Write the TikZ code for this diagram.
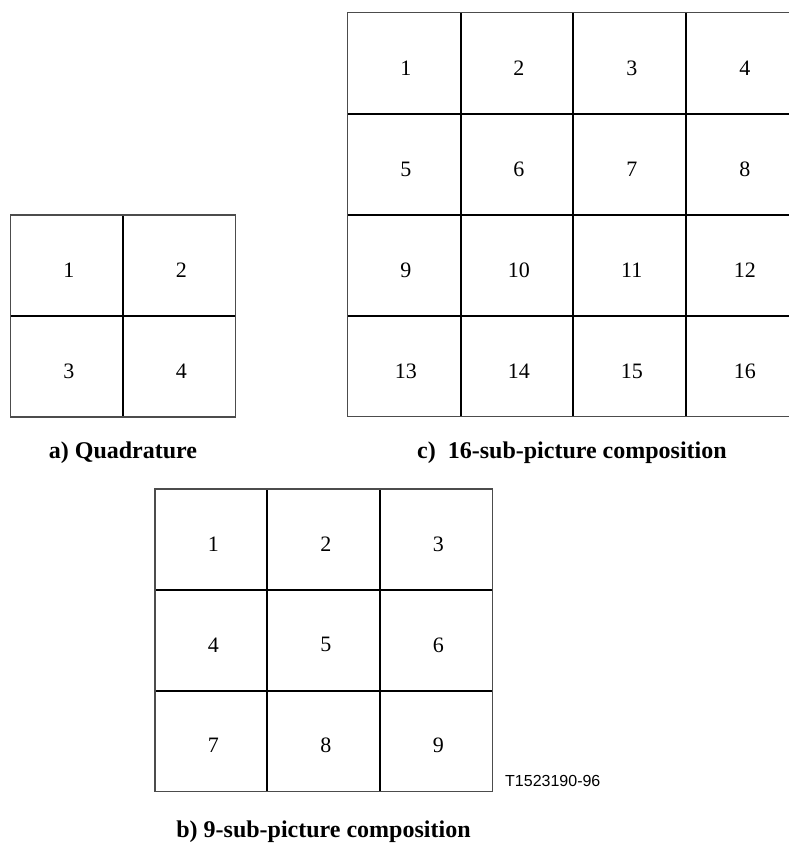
\documentclass[tikz,border=0pt]{standalone}
\usepackage{fontspec}
\setmainfont{Liberation Serif}
\newfontfamily\labelsans{Liberation Sans}
\begin{document}
\begin{tikzpicture}[x=1pt,y=-1pt,
  outerline/.style={line width=1.3pt, draw=black!70},
  innerline/.style={line width=1.8pt, draw=black},
  cellnum/.style={font=\fontsize{22}{26}\selectfont, inner sep=0pt},
  caption/.style={font=\fontsize{24}{28}\selectfont\bfseries, inner sep=0pt, anchor=base},
  codelabel/.style={font=\labelsans\fontsize{16}{19}\selectfont, inner sep=0pt, anchor=base west},
]
\useasboundingbox (0,0) rectangle (789,843);

% ---------- a) Quadrature ----------
\draw[innerline] (122.7,215) -- (122.7,417);
\draw[innerline] (10.5,316) -- (235.7,316);
\draw[outerline] (10.5,215) rectangle (235.7,417);
\foreach \r in {0,1} {
  \foreach \c in {0,1} {
    \pgfmathtruncatemacro\n{\r*2+\c+1}
    \node[cellnum] (qa\n) at ({10.5+112.6*(\c+0.5)+2},{215+101*(\r+0.5)+4.5}) {\n};
  }
}
\node[caption] (capa) at (123,458) {a) Quadrature};

% ---------- c) 16-sub-picture composition ----------
\foreach \xx in {460.7,572.7,686} {
  \draw[innerline] (\xx,12.7) -- (\xx,416.7);
}
\foreach \yy in {113.7,214.7,315.7} {
  \draw[innerline] (347.3,\yy) -- (789,\yy);
}
\draw[outerline] (789,12.7) -- (347.3,12.7) -- (347.3,416.7) -- (789,416.7);
\foreach \r in {0,...,3} {
  \foreach \c in {0,...,3} {
    \pgfmathtruncatemacro\n{\r*4+\c+1}
    \node[cellnum] (qc\n) at ({347.3+113*(\c+0.5)+2},{12.7+101*(\r+0.5)+5}) {\n};
  }
}
\node[caption] (capc) at (572,458) {c)\ \ 16-sub-picture composition};

% ---------- b) 9-sub-picture composition ----------
\foreach \xx in {267.3,380} {
  \draw[innerline] (\xx,489) -- (\xx,791.7);
}
\foreach \yy in {590,691} {
  \draw[innerline] (155,\yy) -- (492.5,\yy);
}
\draw[outerline] (155,489) rectangle (492.5,791.7);
\foreach \r in {0,1,2} {
  \foreach \c in {0,1,2} {
    \pgfmathtruncatemacro\n{\r*3+\c+1}
    \node[cellnum] (qb\n) at ({155+112.5*(\c+0.5)+2},{489+100.9*(\r+0.5)+4.5}) {\n};
  }
}
\node[codelabel] (code) at (505,786) {T1523190-96};
\node[caption] (capb) at (323.5,837) {b) 9-sub-picture composition};
\end{tikzpicture}
\end{document}
